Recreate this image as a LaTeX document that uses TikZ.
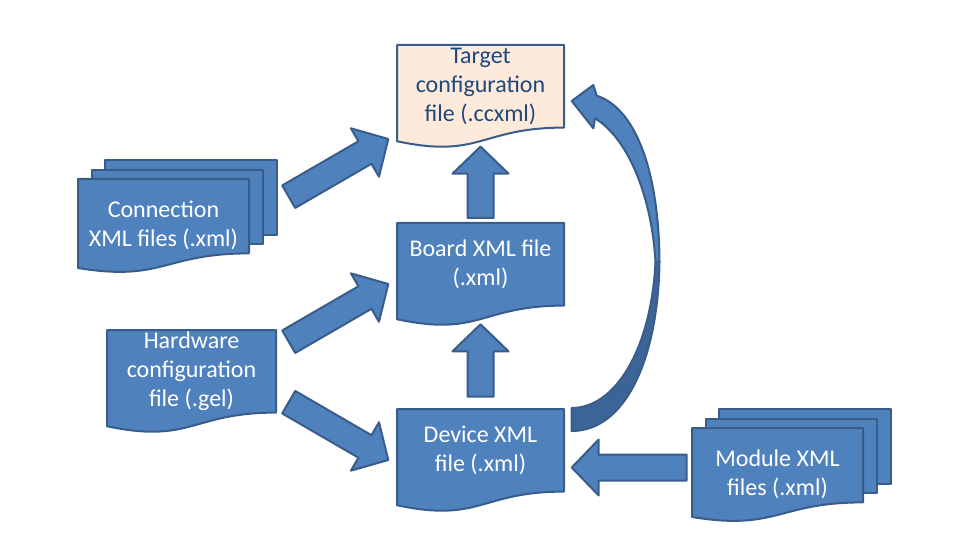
\documentclass[tikz,border=0pt]{standalone}
\usepackage{fontspec}
\setmainfont{Carlito}
\usepackage{tikz}
\usepackage{xcolor}
\usetikzlibrary{calc}
\usetikzlibrary{backgrounds}
\usetikzlibrary{positioning}

\definecolor{docblue}{HTML}{4F81BD}
\definecolor{edgeblue}{HTML}{385D8A}
\definecolor{darkblue}{HTML}{3C6496}
\definecolor{peach}{HTML}{FDEADA}
\definecolor{navy}{HTML}{1F497D}

\begin{document}
\begin{tikzpicture}[x=1pt, y=-1pt, font=\fontsize{24}{29}\selectfont]
		\tikzstyle{doc}=[rectangle, outer sep=0pt, inner sep=0pt, align=center, text=white, minimum width=167pt, minimum height=82.6pt]
		\tikzstyle{multidoc}=[doc, minimum width=171pt, minimum height=93pt]
		\tikzstyle{outline}=[draw=edgeblue, line width=2pt, line join=round]
		\tikzstyle{blockarrow}=[outline, fill=docblue]
		
		\useasboundingbox (0,0) rectangle (958,537);
		
		\node[doc, text=navy] (target) at (480.5,86.3) {Target\\configuration\\file (.ccxml)};
		\node[doc, below=95.4pt of target] (board) {Board XML file\\(.xml)};
		\node[doc, below=103.4pt of board] (device) {Device XML\\file (.xml)};
		\node[doc, minimum width=169pt] (hw) at (191.5,371.3) {Hardware\\configuration\\file (.gel)};
		\node[multidoc] (conn) at (163.5,225.5) {Connection\\XML files (.xml)};
		\node[multidoc] (module) at (777.5,474.5) {Module XML\\files (.xml)};
		
		% document outlines behind the text
		\begin{scope}[on background layer]
			\foreach \nm in {conn, module} {
				\draw[outline, fill=docblue] ($(\nm.north west)+(27,-19)$) rectangle ($(\nm.north east)+(28,56)$);
				\draw[outline, fill=docblue] ($(\nm.north west)+(14,-9.4)$) rectangle ($(\nm.north east)+(14,65)$);
			}
			\foreach \nm/\fc/\rf/\cf/\lf in {target/peach/1/1.381/1.165, board/docblue/1/1.381/1.165, device/docblue/1/1.381/1.165, hw/docblue/1/1.381/1.165, conn/docblue/0.8/1.108/0.957, module/docblue/0.8/1.108/0.957} {
				\draw[outline, fill=\fc] (\nm.north west) -- (\nm.north east) -- ($(\nm.north east)!\rf!(\nm.south east)$) .. controls ($(\nm.north)!\rf!(\nm.south)$) and ($(\nm.north)!\cf!(\nm.south)$) .. ($(\nm.north west)!\lf!(\nm.south west)$) -- cycle;
			}
		\end{scope}
		
		\coordinate (connout) at ($(conn.north east)+(39.7,17.7)$);
		\coordinate (targetin) at ($(target.west)+(-8.7,52.7)$);
		\coordinate (hwup) at ($(hw.north east)+(12.7,11.7)$);
		\coordinate (boardin) at ($(board.west)+(-8.7,19.7)$);
		\coordinate (hwdown) at ($(hw.east)+(12.7,30.9)$);
		\coordinate (devin) at ($(device.west)+(-8.7,9.7)$);
		\coordinate (boardtop) at ($(board.north)+(0,-5)$);
		\coordinate (targetbot) at ($(target.south)+(0,19)$);
		\coordinate (devtop) at ($(device.north)+(0,-12.3)$);
		\coordinate (boardbot) at ($(board.south)+(0,18.7)$);
		\coordinate (modin) at ($(module.west)+(-5.3,-7)$);
		\coordinate (devright) at ($(device.east)+(7.7,17.2)$);
		
		% block arrows
		\foreach \src/\dst in {connout/targetin, hwup/boardin, hwdown/devin, boardtop/targetbot, devtop/boardbot, modin/devright} {
			\coordinate (hd) at ($(\dst)!27pt!(\src)$);
			\draw[blockarrow] ($(\src)!13pt!90:(\dst)$) -- ($(hd)!13pt!90:(\dst)$) -- ($(hd)!28pt!90:(\dst)$) -- (\dst) -- ($(hd)!28pt!-90:(\dst)$) -- ($(hd)!13pt!-90:(\dst)$) -- ($(\src)!13pt!-90:(\dst)$) -- cycle;
		}
		
		% curved arrow from the device file up to the target file
		\coordinate (devcurve) at ($(device.north east)+(7.7,-1)$);
		\coordinate (tgtcurve) at ($(target.east)+(7.7,14.7)$);
		\draw[outline, fill=darkblue] ($(devcurve)+(0,23)$) .. controls (625,431) and (658,360) .. (659.5,262) -- (655.5,262) .. controls (651,350) and (615,408) .. (devcurve) -- cycle;
		\draw[outline, fill=docblue] (tgtcurve) -- (593.3,85) -- (596.7,95.7) .. controls (635,108) and (659,170) .. (659.5,262) -- (655.5,262) .. controls (652,200) and (630,140) .. (595,118.3) -- (593.3,128.3) -- cycle;
	\end{tikzpicture}
\end{document}
